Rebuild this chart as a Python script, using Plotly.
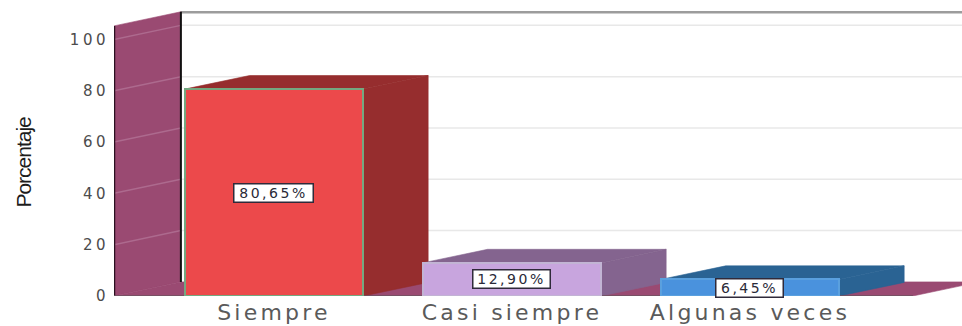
import plotly.graph_objects as go

categories = ["Siempre", "Casi siempre", "Algunas veces"]
values = [80.65, 12.90, 6.45]
labels = ["80,65%", "12,90%", "6,45%"]
y_ticks = [0, 20, 40, 60, 80, 100]
positions = [0, 1, 2]

front_colors = ["#ec494b", "#c8a5de", "#4a92dd"]
edge_colors = ["#74a880", "#c2b4d4", "#5aa0de"]
side_colors = ["#962d2e", "#84648f", "#2a6393"]
wall_color = "#9a4a72"
wall_grid = "#ad6a8e"
grid_color = "#e8e8e8"

BAR_W = 0.75
DX = 0.273      # depth of bars, x units
DY = 5.3        # depth of bars, y units
WALL_DX = 0.281
WALL_DY = 5.5
X0, X1 = -0.672, 2.891
Y1 = 111.1
WALL_TOP = 105.3
FLOOR_END = 2.684


def poly(pts, color):
    d = "M " + " L ".join(f"{x} {y}" for x, y in pts) + " Z"
    return dict(type="path", path=d, xref="x", yref="y", layer="below",
                fillcolor=color, line=dict(width=0.6, color=color))


def seg(x0, y0, x1, y1, color, width):
    return dict(type="line", x0=x0, y0=y0, x1=x1, y1=y1, xref="x", yref="y",
                layer="below", line=dict(color=color, width=width))


bx = X0 + WALL_DX
shapes = []
# back wall grid
for t in y_ticks[1:]:
    shapes.append(seg(bx, t + WALL_DY, X1, t + WALL_DY, grid_color, 1.5))
shapes.append(seg(bx, WALL_TOP + WALL_DY, X1, WALL_TOP + WALL_DY, "#9c9c9c", 3.5))
# side wall
shapes.append(poly([(X0, 0), (X0, WALL_TOP), (bx, WALL_TOP + WALL_DY), (bx, WALL_DY)], wall_color))
for t in y_ticks[1:]:
    shapes.append(seg(X0, t, bx, t + WALL_DY, wall_grid, 1.5))
# floor
shapes.append(poly([(X0, 0), (bx, WALL_DY), (FLOOR_END + WALL_DX, WALL_DY), (FLOOR_END, 0)], wall_color))
# wall edges
shapes.append(seg(bx, WALL_DY, bx, WALL_TOP + WALL_DY, "#111111", 2))
shapes.append(seg(X0, 0, X0, WALL_TOP, "#2a1020", 2.5))
# bar sides and tops
for p, v, c in zip(positions, values, side_colors):
    r = p + BAR_W / 2
    l = p - BAR_W / 2
    shapes.append(poly([(r, 0), (r + DX, DY), (r + DX, v + DY), (r, v)], c))
    shapes.append(poly([(l, v), (l + DX, v + DY), (r + DX, v + DY), (r, v)], c))
shapes.append(seg(X0, 0, FLOOR_END, 0, "#6b5560", 1.5))

fig = go.Figure(go.Bar(
    x=positions, y=values, width=BAR_W,
    marker=dict(color=front_colors, line=dict(color=edge_colors, width=2)),
    hoverinfo="skip",
))

annotations = [
    dict(x=p, y=v / 2, xref="x", yref="y", text=t, showarrow=False,
         width=w, height=17, align="center",
         font=dict(family="DejaVu Sans", size=14, color="#2a2a38"),
         bgcolor="white", bordercolor="#2f2a3a", borderwidth=1.5, borderpad=0)
    for p, v, t, w in zip(positions, values, labels, [78, 76, 66])
]
annotations.append(dict(
    x=0, xref="paper", y=52, yref="y", xanchor="center", yanchor="middle",
    xshift=-90, text="Porcentaje", textangle=-90, showarrow=False,
    font=dict(family="Liberation Sans", size=21, color="#1c1c1c"),
))

fig.update_layout(
    width=962, height=326, showlegend=False, bargap=0,
    margin=dict(l=114, r=0, t=11, b=30, pad=0),
    paper_bgcolor="white", plot_bgcolor="white",
    shapes=shapes, annotations=annotations,
    xaxis=dict(range=[X0, X1], tickmode="array", tickvals=positions, ticktext=categories,
               showgrid=False, zeroline=False, showline=False, ticks="",
               ticklabelstandoff=1,
               tickfont=dict(family="DejaVu Sans", size=22, color="#5a5a5a")),
    yaxis=dict(range=[0, Y1], tickmode="array", tickvals=y_ticks,
               showgrid=False, zeroline=False, showline=False, ticks="",
               ticklabelstandoff=4,
               tickfont=dict(family="DejaVu Sans", size=15, color="#4c4c4c")),
)

post = """
document.body.style.margin = '0';
function sp(sel, v) { document.querySelectorAll(sel).forEach(function (n) { n.style.letterSpacing = v; }); }
sp('.xtick text', '3.2px');
sp('.ytick text', '3.5px');
document.querySelectorAll('.annotation-text').forEach(function (n) {
  if (n.textContent.indexOf('%') >= 0) { n.style.letterSpacing = '2.5px'; }
  else { n.style.letterSpacing = '-1px'; n.style.fontWeight = '500'; }
});
"""
fig.write_html("out.html", post_script=post, config=dict(displayModeBar=False))
